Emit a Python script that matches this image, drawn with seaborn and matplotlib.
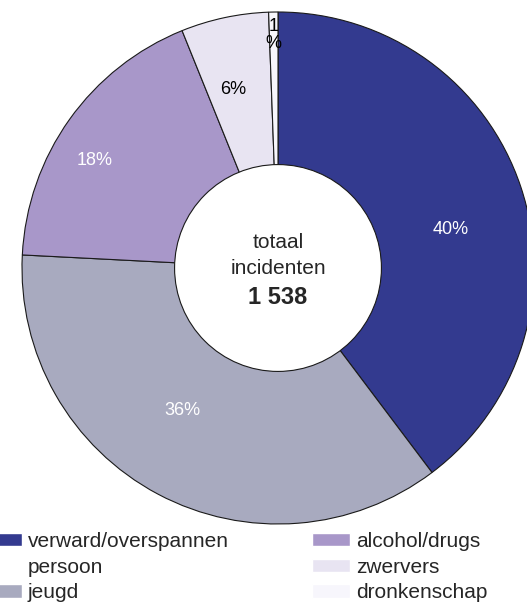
import numpy as np
import matplotlib
matplotlib.use("Agg")
import matplotlib.pyplot as plt
import seaborn as sns
from matplotlib.patches import Patch, Circle

categories = ["verward/overspannen\npersoon", "jeugd", "alcohol/drugs", "zwervers", "dronkenschap"]
counts = [611, 555, 278, 85, 9]
colors = ["#333a8f", "#a8aabf", "#a897c9", "#e8e4f2", "#f7f6fc"]
pct_colors = ["white", "white", "white", "black", "black"]
total = sum(counts)

sns.set_style("white")
plt.rcParams["font.family"] = ["Liberation Sans", "DejaVu Sans"]

fig = plt.figure(figsize=(5.27, 6.03), dpi=100)
ax = fig.add_axes([22 / 527, 79 / 603, 512 / 527, 512 / 603])

def fmt(p):
    return "1\n%" if p < 2 else f"{p:.0f}%"

wedges, texts, autotexts = ax.pie(
    counts, colors=colors, startangle=90, counterclock=False,
    autopct=fmt, radius=1,
    wedgeprops=dict(edgecolor="#1a1a1a", linewidth=0.8),
    textprops=dict(fontsize=13),
)

# label placement (radius, angle shift in degrees)
label_r = [0.69, 0.67, 0.83, 0.72, 0.91]
label_shift = [-6, -6, 5, 2, 0]
for w, t, c, r, s in zip(wedges, autotexts, pct_colors, label_r, label_shift):
    ang = np.deg2rad((w.theta1 + w.theta2) / 2 + s)
    t.set_position((r * np.cos(ang), r * np.sin(ang)))
    t.set_color(c)
    if "\n" in t.get_text():
        t.set_linespacing(1.05)

ax.add_patch(Circle((0, 0), 0.404, facecolor="white", edgecolor="#1a1a1a", linewidth=0.8, zorder=3))
ax.text(0, 0.10, "totaal", ha="center", va="center", fontsize=15, zorder=4)
ax.text(0, 0.0, "incidenten", ha="center", va="center", fontsize=15, zorder=4)
ax.text(0, -0.115, f"{total:,}".replace(",", " "), ha="center", va="center", fontsize=17,
        fontweight="bold", zorder=4)
ax.set_xlim(-1, 1)
ax.set_ylim(-1, 1)
ax.set_aspect("equal")
ax.axis("off")

# legend: two columns, blank handle for the wrapped line
first, second = categories[0].split("\n")
handles = [Patch(facecolor=colors[0]), Patch(facecolor="none", edgecolor="none"), Patch(facecolor=colors[1]),
           Patch(facecolor=colors[2]), Patch(facecolor=colors[3]), Patch(facecolor=colors[4])]
labels = [first, second, categories[1], categories[2], categories[3], categories[4]]
fig.legend(handles, labels, ncol=2, loc="upper left", bbox_to_anchor=(-16 / 527, 1 - 532 / 603),
           frameon=False, fontsize=15, borderpad=0, borderaxespad=0, labelspacing=0.32,
           handlelength=1.8, handleheight=0.6, handletextpad=0.3, columnspacing=4.0)

fig.savefig("out.png", dpi=100)
